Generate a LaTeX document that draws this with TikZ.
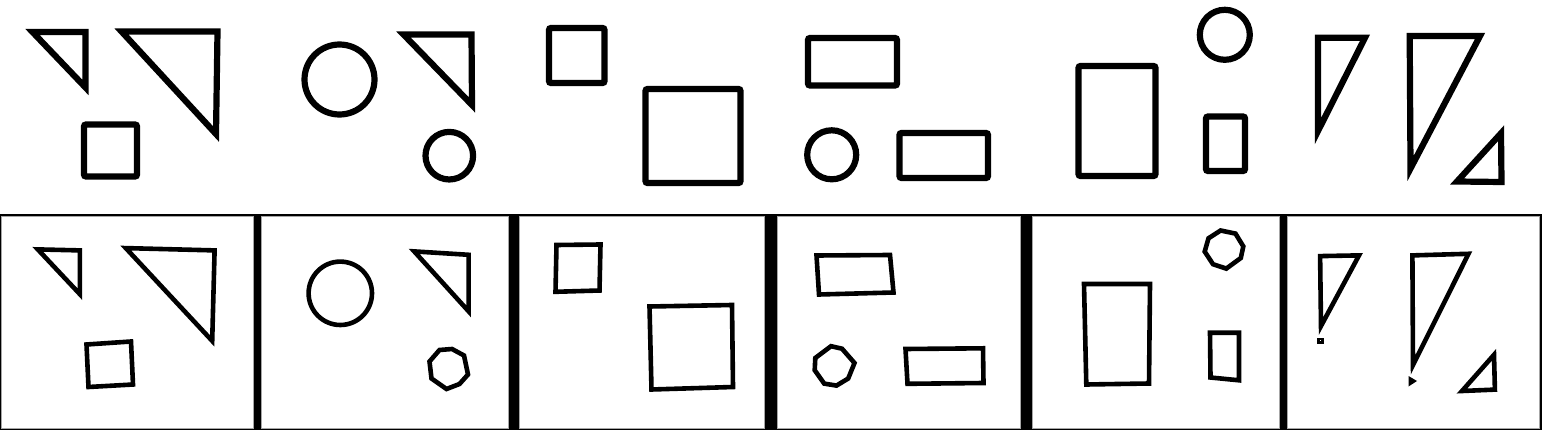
\documentclass[tikz,border=0pt]{standalone}
\begin{document}
\begin{tikzpicture}[x=1pt,y=-1pt,
  hand/.style={draw=black,line width=6.2pt,line join=miter},
  handbox/.style={draw=black,line width=6.2pt,rounded corners=2pt},
  clean/.style={draw=black,line width=4.6pt,line join=miter},
  panel/.style={fill=white,draw=gray!70,line width=0.8pt}]
\useasboundingbox (0,0) rectangle (1542,430);
% ---------- top row ----------
\draw[hand] (32.5,32) -- (85.5,32) -- (85.5,87.5) -- cycle;
\draw[hand] (121.5,31.5) -- (217.5,31.5) -- (216,134) -- cycle;
\draw[handbox] (84,124.5) rectangle (137,176.5);
\draw[hand] (339.5,79.5) circle[radius=35pt];
\draw[hand] (403.5,34.5) -- (471.5,34.5) -- (472,105) -- cycle;
\draw[hand] (449.3,155.7) circle[radius=23.8pt];
\draw[handbox] (549,28) rectangle (604.5,83);
\draw[handbox] (645.5,89) rectangle (740.5,183);
\draw[handbox] (808,38) rectangle (897,85.5);
\draw[hand] (831.7,154.8) circle[radius=24.5pt];
\draw[handbox] (899.5,133) rectangle (988,178);
\draw[handbox] (1078.5,66) rectangle (1155.5,176);
\draw[hand] (1224.8,34.8) circle[radius=25pt];
\draw[handbox] (1206,116.5) rectangle (1245,171);
\draw[hand] (1318,37.7) -- (1365,37.7) -- (1318,131) -- cycle;
\draw[hand] (1409.7,36) -- (1480,36) -- (1410.5,168.5) -- cycle;
\draw[hand] (1501,133.3) -- (1501.5,182) -- (1457,181.5) -- cycle;
% ---------- bottom strip ----------
\fill[black] (0,214) rectangle (1542,430);
\draw[panel] (1.7,216.5) rectangle (253.6,428);
\draw[panel] (261.4,216.5) rectangle (508.6,428);
\draw[panel] (519.3,216.5) rectangle (764.3,428);
\draw[panel] (777.5,216.5) rectangle (1020,428);
\draw[panel] (1032,216.5) rectangle (1279.3,428);
\draw[panel] (1287.6,216.5) rectangle (1539.2,428);
% panel 1
\draw[clean] (37.8,249.4) -- (79.9,250.4) -- (79.9,294.2) -- cycle;
\draw[clean] (125.8,248.1) -- (214.6,250.4) -- (212.2,340.9) -- cycle;
\draw[clean] (86.5,344.5) -- (131,341.5) -- (133,384.5) -- (88.5,387) -- cycle;
% panel 2
\draw[clean] (340.3,293.3) circle[radius=31.7pt];
\draw[clean] (414.2,251.4) -- (468.6,254.8) -- (468.6,311.3) -- cycle;
\draw[clean] (429.5,361.5) -- (439.5,350) -- (452,349) -- (464,355.5) -- (468,374.5) -- (459.5,384) -- (446.5,389) -- (431.5,378.5) -- cycle;
% panel 3
\draw[clean] (556.5,245) -- (600.5,244.5) -- (599.5,290.5) -- (555.5,291.8) -- cycle;
\draw[clean] (649.5,306.5) -- (732,305) -- (733,387) -- (651.5,389.5) -- cycle;
% panel 4
\draw[clean] (816.5,255.5) -- (890,255) -- (893.5,292.5) -- (819,294.5) -- cycle;
\draw[clean] (815.3,358) -- (831,346.2) -- (842,348.7) -- (854.5,363) -- (848.2,378.5) -- (836.5,385.6) -- (824.2,383.6) -- (814.7,370.2) -- cycle;
\draw[clean] (905.5,349) -- (983,348.3) -- (983.5,383) -- (907.5,383.8) -- cycle;
% panel 5
\draw[clean] (1084,284) -- (1150,284) -- (1149,383.5) -- (1086.3,384.5) -- cycle;
\draw[clean] (1208.5,238.3) -- (1220.6,230.5) -- (1235.5,233.6) -- (1243.3,246.4) -- (1240.8,258) -- (1226.3,268.6) -- (1213,264.2) -- (1204.7,251.6) -- cycle;
\draw[clean] (1210,332.7) -- (1239,332.7) -- (1239,380.3) -- (1210.5,377.5) -- cycle;
% panel 6
\draw[clean] (1320.1,256.1) -- (1359,255.4) -- (1321,326) -- cycle;
\draw[black,line width=2.6pt] (1318.6,339) rectangle (1322.2,342.2);
\draw[clean] (1412.4,255.4) -- (1468.5,253.8) -- (1413,365) -- cycle;
\fill[black] (1408.5,376) -- (1417,381) -- (1408.5,386.5) -- cycle;
\draw[clean] (1494,354.8) -- (1494.9,389.6) -- (1462,391) -- cycle;
\end{tikzpicture}
\end{document}
